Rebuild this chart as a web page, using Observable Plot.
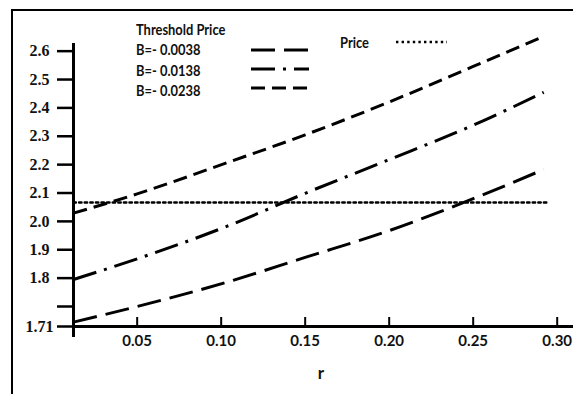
<!DOCTYPE html>
<html>
<head>
<meta charset="utf-8">
<script src="https://cdn.jsdelivr.net/npm/d3@7"></script>
<script src="https://cdn.jsdelivr.net/npm/@observablehq/plot@0.6"></script>
<style>
  html, body { margin: 0; padding: 0; background: #fff; }
  #wrap { position: relative; width: 573px; height: 394px; overflow: hidden; background: #fff; }
  #frame { position: absolute; left: 11px; top: 9px; width: 570px; height: 400px;
           border-top: 2px solid #000; border-left: 2px solid #000; pointer-events: none; }
  #legend { position: absolute; left: 136px; top: 20px; font-family: Lato, "Open Sans", sans-serif;
            font-weight: bold; font-size: 15px; color: #111; }
  .lrow { position: absolute; white-space: nowrap; line-height: 1; transform: scaleX(0.86); transform-origin: 0 0; }
  .lsvg { position: absolute; }
  svg text { fill: #111; }
  g[aria-label="y-axis tick label"] text, text.serif {
    font-family: "Liberation Serif", "Times New Roman", "DejaVu Serif", serif !important;
    font-weight: bold !important; font-size: 16px !important; }
  g[aria-label="x-axis tick label"] text { font-family: Lato, "Open Sans", sans-serif; font-weight: bold; font-size: 15px; }
</style>
</head>
<body>
<div id="wrap">
  <div id="chart"></div>
  <div id="frame"></div>
  <div id="legend"></div>
</div>
<script>
// ---------- data ----------
const rPts      = [0.0121, 0.05, 0.1036, 0.15, 0.1988, 0.25, 0.292];
const lowB0038  = [1.645, 1.700, 1.786, 1.873, 1.965, 2.080, 2.183];
const midB0138  = [1.795, 1.868, 1.983, 2.099, 2.215, 2.339, 2.455];
const topB0238  = [2.029, 2.097, 2.207, 2.305, 2.418, 2.546, 2.652];
const priceR    = [0.0121, 0.2942];
const priceV    = [2.0666, 2.0666];
const seriesNames = ["B=- 0.0038", "B=- 0.0138", "B=- 0.0238"];
const legendTitle = "Threshold Price";
const priceLabel  = "Price";
const xTicks = [0.05, 0.10, 0.15, 0.20, 0.25, 0.30];
const yTicks = [1.7, 1.8, 1.9, 2.0, 2.1, 2.2, 2.3, 2.4, 2.5, 2.6];
const yBottomLabel = "1.71";
const xLabel = "r";

// ---------- layout / style ----------
const W = 573, H = 394;
const mL = 73, mR = 0, mT = 43, mB = 68;
const xDomain = [0.0121, 0.3097];
const yDomain = [1.6295, 2.627];
const dashes = ["24,9", "24,8,3,8", "14,7"];
const priceDash = "2.4,3.2";

const yS = d3.scaleLinear(yDomain, [H - mB, mT]);
const yMin = yDomain[0];
const xTickTop = yS.invert(yS(yMin) - 9);
const yAxisBottom = yS.invert(yS(yMin) + 11);

const table = arr => rPts.map((r, i) => ({r, v: arr[i]}));
const series = [table(lowB0038), table(midB0138), table(topB0238)];
const price = priceR.map((r, i) => ({r, v: priceV[i]}));

const lineMarks = series.map((s, i) => Plot.line(s, {
  x: "r", y: "v", curve: "monotone-x", stroke: "#000", strokeWidth: 3,
  strokeDasharray: dashes[i], strokeLinecap: "butt"
}));

const chart = Plot.plot({
  width: W, height: H,
  marginLeft: mL, marginRight: mR, marginTop: mT, marginBottom: mB,
  style: {background: "transparent", overflow: "visible"},
  x: {domain: xDomain},
  y: {domain: yDomain},
  marks: [
    Plot.line(price, {x: "r", y: "v", stroke: "#000", strokeWidth: 2.5, strokeDasharray: priceDash}),
    ...lineMarks,
    Plot.ruleY([yMin], {x1: xDomain[0], x2: xDomain[1], stroke: "#000", strokeWidth: 3}),
    Plot.ruleX([xDomain[0]], {y1: yAxisBottom, y2: yDomain[1], stroke: "#000", strokeWidth: 3}),
    Plot.ruleX(xTicks, {y1: yMin, y2: xTickTop, stroke: "#000", strokeWidth: 2}),
    Plot.axisY({ticks: [yMin, ...yTicks], tickSize: 16, tickPadding: 8, strokeWidth: 2.5,
                tickFormat: d => (d === yMin || d === 1.7) ? "" : d.toFixed(1), label: null}),
    Plot.text([yMin], {x: xDomain[0], y: d => d, text: () => yBottomLabel, textAnchor: "end", dx: -20,
                className: "serif"}),
    Plot.axisX({ticks: xTicks, tickSize: 0, tickPadding: 9, tickFormat: d => d.toFixed(2), label: null}),
    Plot.text([xLabel], {x: (xDomain[0] + xDomain[1]) / 2 - 0.0015, y: yMin, text: d => d, dy: 47,
                fontFamily: "Lato", fontWeight: "bold", fontSize: 17})
  ]
});
document.getElementById("chart").appendChild(chart);
chart.querySelectorAll("g.serif text, .serif text").forEach(t => t.classList.add("serif"));

// ---------- legend (HTML overlay) ----------
const lg = document.getElementById("legend");
function addRow(text, left, top) {
  const d = document.createElement("div");
  d.className = "lrow"; d.textContent = text;
  d.style.left = left + "px"; d.style.top = top + "px";
  lg.appendChild(d);
}
function addSample(dash, left, top, w, sw) {
  const ns = "http://www.w3.org/2000/svg";
  const s = document.createElementNS(ns, "svg");
  s.setAttribute("class", "lsvg");
  s.setAttribute("width", w); s.setAttribute("height", 8);
  s.style.left = left + "px"; s.style.top = (top - 4) + "px";
  const l = document.createElementNS(ns, "line");
  l.setAttribute("x1", 0); l.setAttribute("x2", w);
  l.setAttribute("y1", 4); l.setAttribute("y2", 4);
  l.setAttribute("stroke", "#000"); l.setAttribute("stroke-width", sw);
  l.setAttribute("stroke-dasharray", dash);
  s.appendChild(l); lg.appendChild(s);
}
addRow(legendTitle, 0, 2);
seriesNames.forEach((n, i) => {
  addRow(n, 0, 22 + i * 20.5);
  addSample(dashes[i], 115, 30 + i * 19, 58, 3);
});
addRow(priceLabel, 204, 15);
addSample(priceDash, 260, 22, 51, 2.5);
</script>
</body>
</html>
